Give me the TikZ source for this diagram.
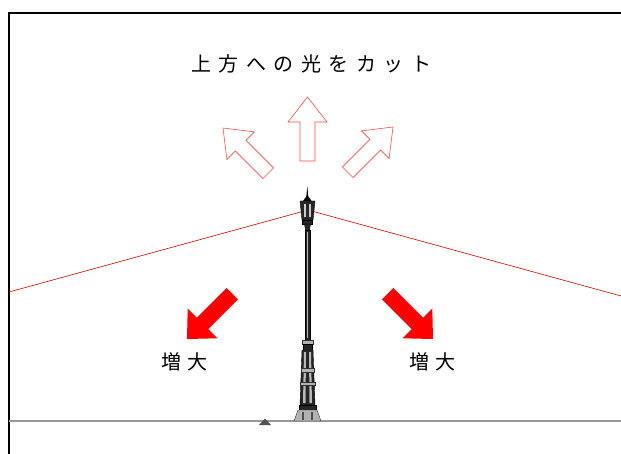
\documentclass[tikz,border=0pt]{standalone}
\usepackage{fontspec}
\newfontfamily\jpfont{Noto Sans CJK JP}
\begin{document}
\begin{tikzpicture}[x=1pt,y=-1pt,
  frameline/.style={draw=black,line width=1.6pt},
  groundline/.style={draw=gray!80,line width=1.4pt},
  beam/.style={draw=red!85!black,line width=0.6pt},
  label/.style={font=\jpfont\fontsize{20pt}{20pt}\selectfont,text=black,inner sep=0pt},
  postdark/.style={fill=black!85,draw=black,line width=0.4pt},
  postmid/.style={fill=gray!60,draw=black!80,line width=0.4pt},
  outlinearrow/.pic={
    \draw[draw=red!70,line width=0.6pt,fill=white]
      (0,0) -- (19.5,25) -- (7.5,25) -- (7.5,64) -- (-7.5,64)
      -- (-7.5,25) -- (-19.5,25) -- cycle;
  },
  solidarrow/.pic={
    \fill[red]
      (0,0) -- (21,22) -- (8,22) -- (8,64) -- (-8,64)
      -- (-8,22) -- (-21,22) -- cycle;
  }]
\useasboundingbox (0,0) rectangle (621,454);

% frame
\draw[frameline] (9,454) -- (9,13) -- (621,13);

% ground
\coordinate (gL) at (9,421);
\coordinate (gR) at (621,421);
\draw[groundline] (gL) -- (gR);
\fill[gray!65!black] (259,425) -- (265,418.5) -- (271,425) -- cycle;

% light cut-off lines from the lantern
\coordinate (lamp) at (308,210);
\coordinate (edgeL) at (9,292);
\coordinate (edgeR) at (621,296);
\draw[beam] (lamp) -- (edgeL);
\draw[beam] (lamp) -- (edgeR);

% title
\node[label] (title) at (311,64)
  {上\kern7.5pt 方\kern7.5pt へ\kern7.5pt の\kern7.5pt 光\kern7.5pt を\kern7.5pt カ\kern7.5pt ッ\kern7.5pt ト};

% upward light arrows (cut)
\pic at (307.5,97) {outlinearrow};
\pic[rotate=45] at (223,128) {outlinearrow};
\pic[rotate=-45] at (393,127) {outlinearrow};

% downward light arrows (increase)
\pic[rotate=135] at (187,339) {solidarrow};
\pic[rotate=-135] at (433,339) {solidarrow};
\node[label] (incL) at (184,362) {増\kern6pt 大};
\node[label] (incR) at (432,362) {増\kern6pt 大};

% lamp post
% finial
\fill[black] (306.2,198) -- (307.3,186) -- (308.4,198) -- cycle;
\fill[black] (303,201) -- (307.3,195) -- (311.6,201) -- cycle;
% lantern
\draw[postdark] (300,201) -- (315,201) -- (313,220) -- (302,220) -- cycle;
\fill[gray!40] (304,204) rectangle (306,217);
\fill[gray!40] (309,204) rectangle (311,217);
\draw[postdark] (302.5,220) rectangle (312.5,224);
\draw[postdark] (304.5,224) -- (310.5,224) -- (309.5,230) -- (305.5,230) -- cycle;
% pole
\draw[postdark] (305,230) rectangle (310,340);
\fill[gray!55] (306.8,232) rectangle (307.8,338);
% collar
\draw[postmid] (302,340) rectangle (313,344);
\draw[postdark] (303,344) rectangle (312,350);
% column
\draw[postdark] (302,350) -- (313,350) -- (315,405) -- (300,405) -- cycle;
\fill[gray!55] (304,352) -- (306,352) -- (305.5,403) -- (303,403) -- cycle;
\fill[gray!55] (309,352) -- (311,352) -- (312,403) -- (309.5,403) -- cycle;
\draw[postmid] (301,368) rectangle (314,372);
\draw[postmid] (300,382) rectangle (315,385);
% foot
\draw[postdark] (299,405) rectangle (316,410);
\draw[postmid] (298,410) -- (317,410) -- (321,421) -- (294,421) -- cycle;
\fill[black!70] (302,412) rectangle (304,420);
\fill[black!70] (311,412) rectangle (313,420);
\end{tikzpicture}
\end{document}
